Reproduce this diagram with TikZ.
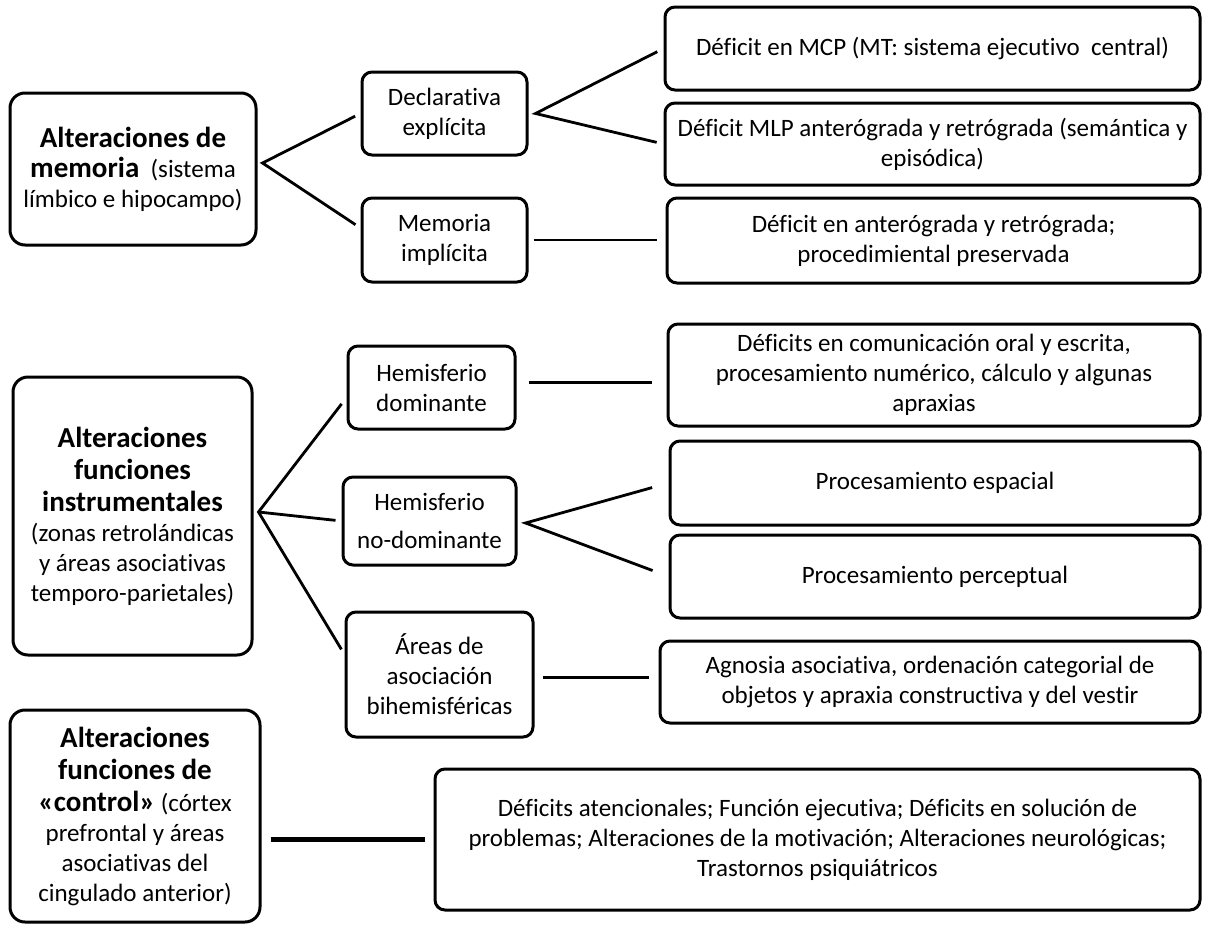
\documentclass[tikz,border=0pt]{standalone}
\usepackage{fontspec}
\setmainfont{Carlito}[Ligatures={NoCommon}]
\usetikzlibrary{calc}
\tikzset{
	box/.style={draw, line width=3pt, rounded corners=10pt, align=center, inner sep=2pt, font=\fontsize{25}{30}\selectfont},
	bigbox/.style={box, rounded corners=15pt},
	link/.style={line width=2.8pt},
}
\newcommand{\tit}[1]{{\fontsize{29}{34}\selectfont\bfseries #1}}

\begin{document}
\begin{tikzpicture}[x=1pt, y=-1pt]
			%%%%% START %%%%%
			\useasboundingbox (0, 0) rectangle (1205, 924);
			
			\node[bigbox, minimum width=246pt, minimum height=152pt] (mem) at (133, 169) {\tit{Alteraciones de}\\\tit{memoria}\ \ (sistema\\límbico e hipocampo)};
			\node[bigbox, minimum width=239pt, minimum height=278pt] (instr) at (132.5, 516) {\tit{Alteraciones}\\[2pt]\tit{funciones}\\[2pt]\tit{instrumentales}\\(zonas retrolándicas\\y áreas asociativas\\temporo-parietales)};
			\node[bigbox, minimum width=250pt, minimum height=212pt] (ctl) at (135, 816) {\tit{Alteraciones}\\[2pt]\tit{funciones de}\\[2pt]\tit{«control»} (córtex\\prefrontal y áreas\\asociativas del\\cingulado anterior)};
			
			\node[box, minimum width=165pt, minimum height=83pt] (decl) at (444.5, 113.5) {Declarativa\\explícita};
			\node[box, minimum width=165pt, minimum height=84pt] (impl) at (444.5, 240) {Memoria\\implícita};
			\node[box, minimum width=167pt, minimum height=83pt] (hdom) at (431.5, 387.5) {Hemisferio\\dominante};
			\node[box, minimum width=173pt, minimum height=88pt] (hnd) at (429.5, 521) {Hemisferio\\[8pt]no-dominante};
			\node[box, minimum width=187pt, minimum height=125pt] (areas) at (439.5, 674.5) {Áreas de\\asociación\\bihemisféricas};
			
			\node[box, minimum width=535pt, minimum height=83pt] (mcp) at (932.5, 48.5) {Déficit en MCP (MT: sistema ejecutivo\ \ central)};
			\node[box, minimum width=535pt, minimum height=82pt] (mlp) at (932.5, 144) {Déficit MLP anterógrada y retrógrada (semántica y\\episódica)};
			\node[box, minimum width=533pt, minimum height=85pt] (antero) at (933.5, 240.5) {Déficit en anterógrada y retrógrada;\\procedimiental preservada};
			\node[box, minimum width=532pt, minimum height=102pt] (comun) at (934, 375) {Déficits en comunicación oral y escrita,\\procesamiento numérico, cálculo y algunas\\apraxias};
			\node[box, minimum width=530pt, minimum height=84pt] (espacial) at (935, 483) {Procesamiento espacial};
			\node[box, minimum width=530pt, minimum height=83pt] (percep) at (935, 576.5) {Procesamiento perceptual};
			\node[box, minimum width=540pt, minimum height=82pt] (agnosia) at (930, 682) {Agnosia asociativa, ordenación categorial de\\objetos y apraxia constructiva y del vestir};
			\node[box, minimum width=765pt, minimum height=141pt] (ejec) at (817.5, 839.5) {Déficits atencionales; Función ejecutiva; Déficits en solución de\\problemas; Alteraciones de la motivación; Alteraciones neurológicas;\\Trastornos psiquiátricos};
			
			% fans
			\coordinate (fmem) at ($(mem.east)+(5, -6)$);
			\coordinate (fdecl) at ($(decl.east)+(7, 0)$);
			\coordinate (finstr) at ($(instr.east)+(5, -4)$);
			\coordinate (fhnd) at ($(hnd.east)+(8, 2)$);
			
			\draw[link, shorten <=6pt, shorten >=6pt] (decl.west) -- (fmem) -- ([yshift=12pt]impl.west);
			\draw[link, shorten <=7pt, shorten >=7pt] (mcp.west) -- (fdecl) -- (mlp.west);
			\draw[link, shorten <=5pt, shorten >=9pt] (impl.east) -- (impl.east -| antero.west);
			
			\draw[link, shorten <=8pt, shorten >=6pt] ([yshift=-10pt]hdom.west) -- (finstr) -- ([yshift=20pt]areas.west);
			\draw[link, shorten >=6pt] (finstr) -- (hnd.west);
			\draw[link, shorten <=12pt, shorten >=15pt] ([yshift=5pt]hdom.east) -- ([yshift=5pt]hdom.east -| comun.west);
			\draw[link, shorten <=17pt, shorten >=17pt] (espacial.west) -- (fhnd) -- (percep.west);
			\draw[link, shorten <=8pt, shorten >=10pt] ([yshift=-3pt]areas.east) -- ([yshift=-3pt]areas.east -| agnosia.west);
			
			\draw[link, line width=5pt, shorten <=9pt, shorten >=9pt] (ejec.west -| ctl.east) -- (ejec.west);
			%%%%% END %%%%%
\end{tikzpicture}
\end{document}
